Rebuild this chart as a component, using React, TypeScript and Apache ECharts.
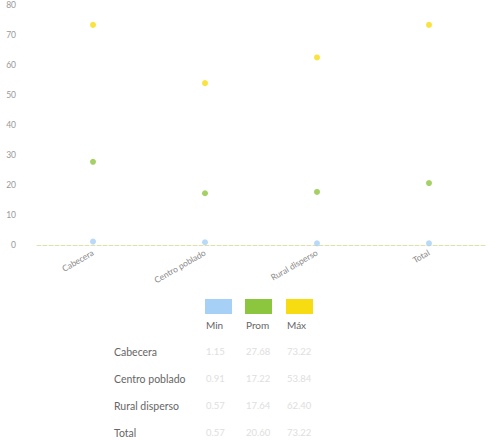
import React, { useEffect, useRef } from "react";
import * as echarts from "echarts";

const categories = ["Cabecera", "Centro poblado", "Rural disperso", "Total"];
const rowLabels = ["Cabecera", "Centro poblado", "Rural disperso", "Total"];
const minValues = [1.15, 0.91, 0.57, 0.57];
const promValues = [27.68, 17.22, 17.64, 20.6];
const maxValues = [73.22, 53.84, 62.4, 73.22];
const seriesNames = ["Min", "Prom", "Máx"];
const colors = ["#a6d0f5", "#8cc63f", "#f7dc11"];
const FONT = "Lato, 'Open Sans', sans-serif";

export default function App() {
  const ref = useRef<HTMLDivElement>(null);
  useEffect(() => {
    if (!ref.current) return;
    const chart = echarts.init(ref.current, undefined, { renderer: "svg" });
    const all = [minValues, promValues, maxValues];
    const fmt = (v: number) => v.toFixed(2);
    const graphic: any[] = [];
    const colX = [218, 258, 299];
    seriesNames.forEach((n, i) => {
      graphic.push({
        type: "rect",
        left: colX[i] - 13,
        top: 299,
        shape: { width: 27, height: 15 },
        style: { fill: colors[i] },
        silent: true,
      });
      graphic.push({
        type: "text",
        left: colX[i] - 12,
        top: 320,
        style: { text: n, fill: "#666", font: `10px ${FONT}` },
        silent: true,
      });
    });
    rowLabels.forEach((r, j) => {
      const y = 346 + j * 27;
      graphic.push({
        type: "text",
        left: 114,
        top: y,
        style: { text: r, fill: "#666", font: `10.5px ${FONT}` },
        silent: true,
      });
      all.forEach((arr, i) => {
        graphic.push({
          type: "text",
          left: colX[i] - 12,
          top: y,
          style: { text: fmt(arr[j]), fill: "#dedede", font: `9.5px ${FONT}` },
          silent: true,
        });
      });
    });
    chart.setOption({
      animation: false,
      backgroundColor: "#fff",
      grid: { left: 37, right: 5, top: 4, bottom: 195, containLabel: false },
      xAxis: {
        type: "category",
        data: categories,
        boundaryGap: true,
        axisLine: { show: true, lineStyle: { color: "#dde2a6", type: "dashed", width: 1 } },
        axisTick: { show: false },
        axisLabel: {
          rotate: 30,
          color: "#888",
          fontSize: 8.5,
          fontFamily: FONT,
          margin: 7,
        },
        splitLine: { show: false },
      },
      yAxis: {
        type: "value",
        min: 0,
        max: 80,
        interval: 10,
        axisLine: { show: false },
        axisTick: { show: false },
        splitLine: { show: false },
        axisLabel: { color: "#999", fontSize: 8.5, fontFamily: FONT, margin: 21 },
      },
      series: all.map((arr, i) => ({
        name: seriesNames[i],
        type: "scatter",
        data: arr,
        symbolSize: 6,
        itemStyle: { color: colors[i] },
      })),
      graphic,
    });
    return () => chart.dispose();
  }, []);
  return (
    <div
      ref={ref}
      style={{ position: "absolute", left: 0, top: 0, width: 490, height: 440 }}
    />
  );
}
